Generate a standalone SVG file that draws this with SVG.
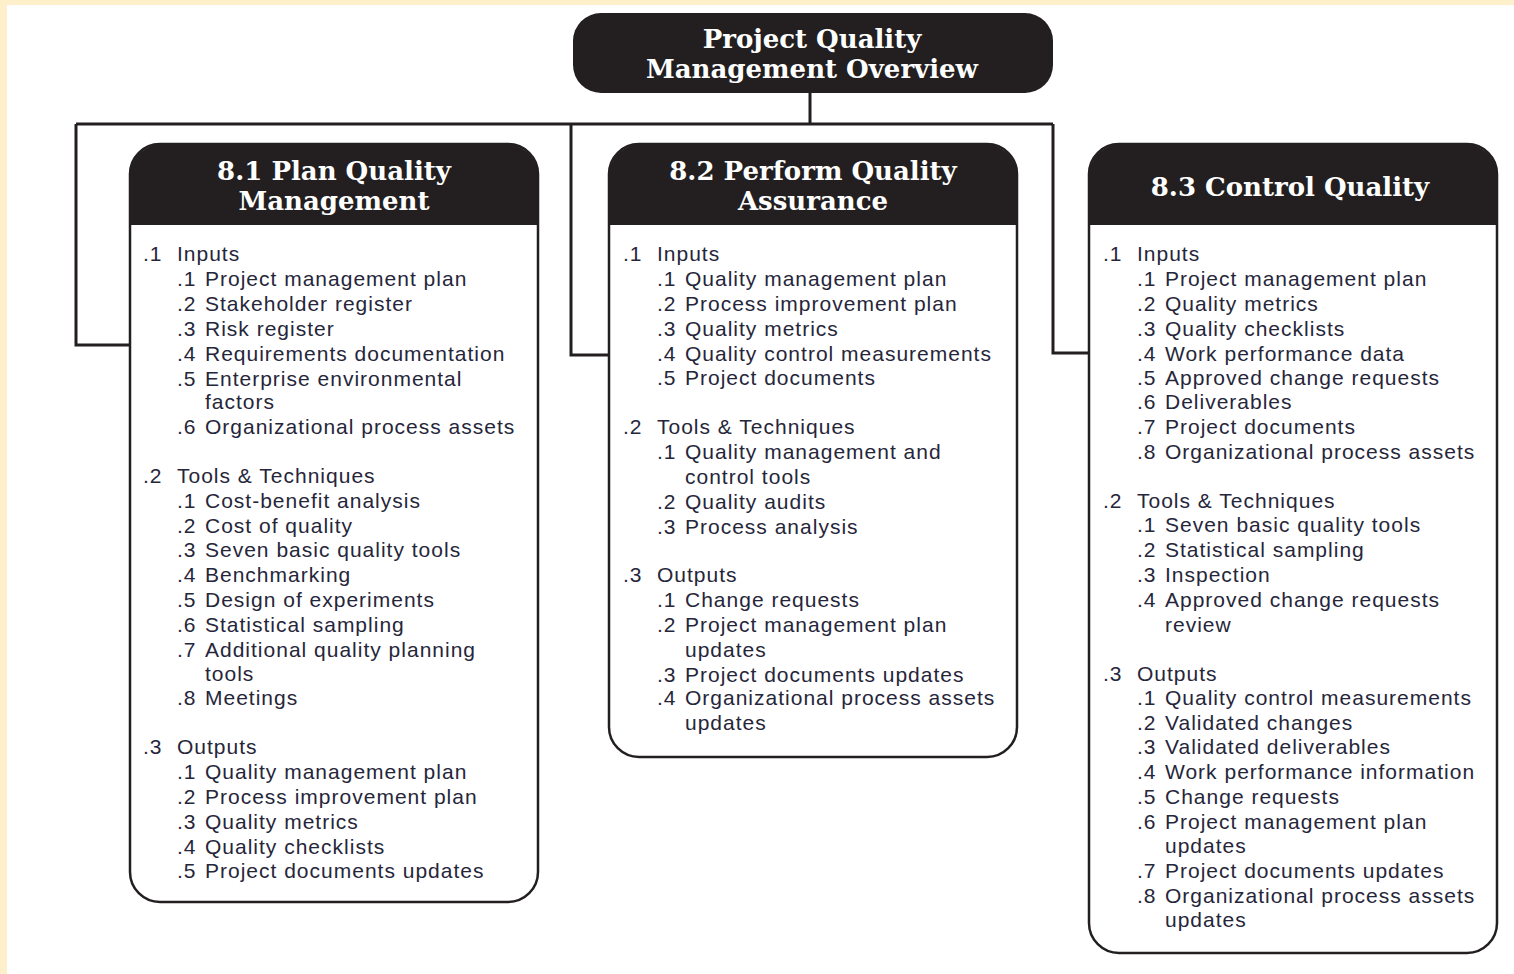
<svg xmlns="http://www.w3.org/2000/svg" width="1514" height="974" viewBox="0 0 1514 974">
<style>
.bg{fill:#ffffff}
.cream{fill:#fff0cc}
.hdr{fill:#231f20}
.box{fill:#ffffff;stroke:#231f20;stroke-width:2.5}
.conn{fill:none;stroke:#231f20;stroke-width:3}
.ht{font-family:"DejaVu Serif",serif;font-weight:bold;font-size:26px;fill:#ffffff;text-anchor:middle}
.t{font-family:"Liberation Sans",Arial,sans-serif;font-size:21px;letter-spacing:1px;fill:#26263a}
</style>
<rect class="bg" x="0" y="0" width="1514" height="974"/>
<rect class="cream" x="0" y="0" width="1514" height="5"/>
<rect class="cream" x="0" y="0" width="7" height="974"/>

<g id="connectors">
<path class="conn" d="M810,93 V124"/>
<path class="conn" d="M76,124 H1053"/>
<path class="conn" d="M76,124 V345 H130"/>
<path class="conn" d="M571,124 V355 H610"/>
<path class="conn" d="M1053,124 V353 H1090"/>
</g>

<g id="top">
<rect class="hdr" x="573" y="13" width="480" height="80" rx="28"/>
<text class="ht" x="812" y="48">Project Quality</text>
<text class="ht" x="812" y="78">Management Overview</text>
</g>

<g id="plan">
<rect class="box" x="130" y="144" width="408" height="758" rx="30"/>
<path class="hdr" d="M130,225 V176 A32,32 0 0 1 162,144 H506 A32,32 0 0 1 538,176 V225 Z"/>
<text class="ht" x="334" y="180">8.1 Plan Quality</text>
<text class="ht" x="334" y="210">Management</text>
<g class="t">
<text x="143" y="261">.1</text><text x="177" y="261">Inputs</text>
<text x="177" y="286">.1</text><text x="205" y="286">Project management plan</text>
<text x="177" y="311">.2</text><text x="205" y="311">Stakeholder register</text>
<text x="177" y="336">.3</text><text x="205" y="336">Risk register</text>
<text x="177" y="361">.4</text><text x="205" y="361">Requirements documentation</text>
<text x="177" y="386">.5</text><text x="205" y="386">Enterprise environmental</text>
<text x="205" y="409">factors</text>
<text x="177" y="434">.6</text><text x="205" y="434">Organizational process assets</text>
<text x="143" y="483">.2</text><text x="177" y="483">Tools &amp; Techniques</text>
<text x="177" y="508">.1</text><text x="205" y="508">Cost-benefit analysis</text>
<text x="177" y="533">.2</text><text x="205" y="533">Cost of quality</text>
<text x="177" y="557">.3</text><text x="205" y="557">Seven basic quality tools</text>
<text x="177" y="582">.4</text><text x="205" y="582">Benchmarking</text>
<text x="177" y="607">.5</text><text x="205" y="607">Design of experiments</text>
<text x="177" y="632">.6</text><text x="205" y="632">Statistical sampling</text>
<text x="177" y="657">.7</text><text x="205" y="657">Additional quality planning</text>
<text x="205" y="681">tools</text>
<text x="177" y="705">.8</text><text x="205" y="705">Meetings</text>
<text x="143" y="754">.3</text><text x="177" y="754">Outputs</text>
<text x="177" y="779">.1</text><text x="205" y="779">Quality management plan</text>
<text x="177" y="804">.2</text><text x="205" y="804">Process improvement plan</text>
<text x="177" y="829">.3</text><text x="205" y="829">Quality metrics</text>
<text x="177" y="854">.4</text><text x="205" y="854">Quality checklists</text>
<text x="177" y="878">.5</text><text x="205" y="878">Project documents updates</text>
</g>
</g>

<g id="assurance">
<rect class="box" x="609" y="144" width="408" height="613" rx="30"/>
<path class="hdr" d="M609,225 V176 A32,32 0 0 1 641,144 H985 A32,32 0 0 1 1017,176 V225 Z"/>
<text class="ht" x="813" y="180">8.2 Perform Quality</text>
<text class="ht" x="813" y="210">Assurance</text>
<g class="t">
<text x="623" y="261">.1</text><text x="657" y="261">Inputs</text>
<text x="657" y="286">.1</text><text x="685" y="286">Quality management plan</text>
<text x="657" y="311">.2</text><text x="685" y="311">Process improvement plan</text>
<text x="657" y="336">.3</text><text x="685" y="336">Quality metrics</text>
<text x="657" y="361">.4</text><text x="685" y="361">Quality control measurements</text>
<text x="657" y="385">.5</text><text x="685" y="385">Project documents</text>
<text x="623" y="434">.2</text><text x="657" y="434">Tools &amp; Techniques</text>
<text x="657" y="459">.1</text><text x="685" y="459">Quality management and</text>
<text x="685" y="484">control tools</text>
<text x="657" y="509">.2</text><text x="685" y="509">Quality audits</text>
<text x="657" y="534">.3</text><text x="685" y="534">Process analysis</text>
<text x="623" y="582">.3</text><text x="657" y="582">Outputs</text>
<text x="657" y="607">.1</text><text x="685" y="607">Change requests</text>
<text x="657" y="632">.2</text><text x="685" y="632">Project management plan</text>
<text x="685" y="657">updates</text>
<text x="657" y="682">.3</text><text x="685" y="682">Project documents updates</text>
<text x="657" y="705">.4</text><text x="685" y="705">Organizational process assets</text>
<text x="685" y="730">updates</text>
</g>
</g>

<g id="control">
<rect class="box" x="1089" y="144" width="408" height="809" rx="30"/>
<path class="hdr" d="M1089,225 V176 A32,32 0 0 1 1121,144 H1465 A32,32 0 0 1 1497,176 V225 Z"/>
<text class="ht" x="1290" y="196">8.3 Control Quality</text>
<g class="t">
<text x="1103" y="261">.1</text><text x="1137" y="261">Inputs</text>
<text x="1137" y="286">.1</text><text x="1165" y="286">Project management plan</text>
<text x="1137" y="311">.2</text><text x="1165" y="311">Quality metrics</text>
<text x="1137" y="336">.3</text><text x="1165" y="336">Quality checklists</text>
<text x="1137" y="361">.4</text><text x="1165" y="361">Work performance data</text>
<text x="1137" y="385">.5</text><text x="1165" y="385">Approved change requests</text>
<text x="1137" y="409">.6</text><text x="1165" y="409">Deliverables</text>
<text x="1137" y="434">.7</text><text x="1165" y="434">Project documents</text>
<text x="1137" y="459">.8</text><text x="1165" y="459">Organizational process assets</text>
<text x="1103" y="508">.2</text><text x="1137" y="508">Tools &amp; Techniques</text>
<text x="1137" y="532">.1</text><text x="1165" y="532">Seven basic quality tools</text>
<text x="1137" y="557">.2</text><text x="1165" y="557">Statistical sampling</text>
<text x="1137" y="582">.3</text><text x="1165" y="582">Inspection</text>
<text x="1137" y="607">.4</text><text x="1165" y="607">Approved change requests</text>
<text x="1165" y="632">review</text>
<text x="1103" y="681">.3</text><text x="1137" y="681">Outputs</text>
<text x="1137" y="705">.1</text><text x="1165" y="705">Quality control measurements</text>
<text x="1137" y="730">.2</text><text x="1165" y="730">Validated changes</text>
<text x="1137" y="754">.3</text><text x="1165" y="754">Validated deliverables</text>
<text x="1137" y="779">.4</text><text x="1165" y="779">Work performance information</text>
<text x="1137" y="804">.5</text><text x="1165" y="804">Change requests</text>
<text x="1137" y="829">.6</text><text x="1165" y="829">Project management plan</text>
<text x="1165" y="853">updates</text>
<text x="1137" y="878">.7</text><text x="1165" y="878">Project documents updates</text>
<text x="1137" y="903">.8</text><text x="1165" y="903">Organizational process assets</text>
<text x="1165" y="927">updates</text>
</g>
</g>
</svg>
